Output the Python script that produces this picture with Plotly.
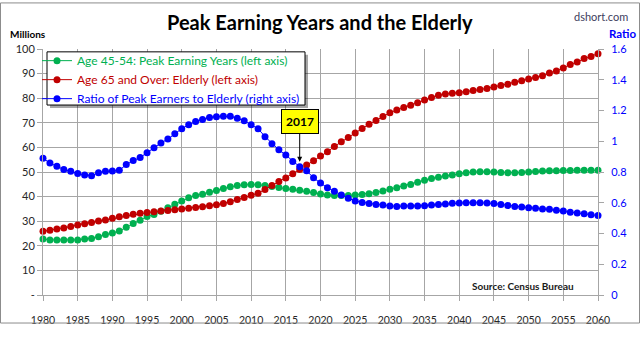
import plotly.graph_objects as go

# ---- data ---------------------------------------------------------------
years = list(range(1980, 2061))

# Population aged 45-54 (millions)
peak_earners = [
    22.8, 22.4, 22.4, 22.4, 22.4, 22.4, 22.8, 23.0, 23.7, 24.6,
    25.2, 26.0, 27.5, 29.1, 30.4, 31.9, 32.7, 34.0, 35.5, 36.9,
    38.2, 39.5, 40.4, 41.0, 41.8, 42.5, 43.3, 44.0, 44.5, 44.8,
    44.9, 44.8, 44.5, 44.1, 43.7, 43.3, 43.0, 42.6, 42.2, 41.7,
    41.1, 40.7, 40.4, 40.4, 40.4, 40.7, 40.9, 41.2, 41.7, 42.3,
    43.0, 43.6, 44.3, 44.9, 45.8, 46.6, 47.4, 47.9, 48.4, 48.8,
    49.3, 49.7, 50.0, 50.1, 50.1, 50.0, 49.8, 49.7, 49.7, 49.8,
    50.0, 50.2, 50.4, 50.5, 50.5, 50.6, 50.6, 50.7, 50.7, 50.7,
    50.7,
]

# Population aged 65 and over (millions)
elderly = [
    25.9, 26.3, 26.8, 27.2, 27.8, 28.5, 29.0, 29.5, 30.1, 30.5,
    31.2, 31.8, 32.3, 32.8, 33.2, 33.5, 33.8, 34.1, 34.4, 34.7,
    35.0, 35.3, 35.6, 35.9, 36.3, 36.7, 37.2, 37.9, 38.8, 39.6,
    40.5, 41.4, 42.9, 44.5, 46.1, 47.6, 49.3, 51.0, 52.8, 54.6,
    56.5, 58.2, 60.4, 62.3, 64.0, 65.9, 67.7, 69.4, 70.9, 72.6,
    74.1, 75.2, 76.2, 77.1, 78.1, 79.3, 80.3, 81.2, 81.7, 82.0,
    82.2, 82.6, 83.1, 83.5, 83.9, 84.6, 85.2, 85.7, 86.5, 87.1,
    87.8, 88.4, 89.1, 90.2, 91.1, 92.3, 93.7, 94.7, 96.1, 97.0,
    98.1,
]

# Ratio of peak earners to elderly
ratio = [
    0.890, 0.858, 0.837, 0.816, 0.805, 0.790, 0.781, 0.776, 0.795, 0.805,
    0.806, 0.811, 0.848, 0.874, 0.894, 0.925, 0.957, 0.989, 1.014, 1.048,
    1.082, 1.107, 1.128, 1.142, 1.154, 1.160, 1.163, 1.162, 1.149, 1.133,
    1.107, 1.082, 1.030, 0.984, 0.944, 0.910, 0.869, 0.834, 0.808, 0.762,
    0.728, 0.698, 0.674, 0.651, 0.630, 0.611, 0.602, 0.595, 0.589, 0.586,
    0.579, 0.576, 0.579, 0.579, 0.579, 0.581, 0.586, 0.589, 0.592, 0.597,
    0.598, 0.600, 0.600, 0.600, 0.598, 0.595, 0.589, 0.582, 0.576, 0.573,
    0.568, 0.565, 0.560, 0.557, 0.552, 0.546, 0.539, 0.533, 0.528, 0.522,
    0.517,
]

left_ticks = list(range(0, 101, 10))
left_tick_text = ["-"] + [str(v) for v in left_ticks[1:]]
right_ticks = [0, 0.2, 0.4, 0.6, 0.8, 1.0, 1.2, 1.4, 1.6]
right_tick_text = ["0", "0.2", "0.4", "0.6", "0.8", "1", "1.2", "1.4", "1.6"]
x_ticks = list(range(1980, 2061, 5))

highlight_year = 2017

# ---- styling --------------------------------------------------------------
W, H = 640, 338
ML, MR, MT, MB = 43, 42, 49, 30
PW, PH = W - ML - MR, H - MT - MB

GREEN = "#00b050"
RED = "#c00000"
BLUE = "#0000ff"
GRID = "#a6a6a6"
FONT = "Lato, 'Open Sans', sans-serif"


def px_x(p):
    return (p - ML) / PW


def px_y(p):
    return 1 - (p - MT) / PH


def series(x, y, name, color, axis):
    return go.Scatter(
        x=x, y=y, name=f"<span style='color:{color}'>{name}</span>",
        mode="lines+markers", yaxis=axis, cliponaxis=False,
        line=dict(color=color, width=1),
        marker=dict(color=color, size=7),
    )


fig = go.Figure()
fig.add_trace(series(years, peak_earners,
                     "Age 45-54: Peak Earning Years (left axis)", GREEN, "y"))
fig.add_trace(series(years, elderly,
                     "Age 65 and Over: Elderly (left axis)", RED, "y"))
fig.add_trace(series(years, ratio,
                     "Ratio of Peak Earners to Elderly (right axis)", BLUE, "y2"))

hi = years.index(highlight_year)

annotations = [
    dict(text="<b>Peak Earning Years and the Elderly</b>", xref="paper", yref="paper",
         x=px_x(320), y=px_y(21), xanchor="center", yanchor="middle", showarrow=False,
         font=dict(size=20, color="#000000", family=FONT)),
    dict(text="dshort.com", xref="paper", yref="paper",
         x=px_x(601), y=px_y(15), xanchor="center", yanchor="middle", showarrow=False,
         font=dict(size=11, color="#404060", family=FONT)),
    dict(text="<b>Millions</b>", xref="paper", yref="paper",
         x=px_x(8), y=px_y(33), xanchor="left", yanchor="middle", showarrow=False,
         font=dict(size=10, color="#000000", family=FONT)),
    dict(text="<b>Ratio</b>", xref="paper", yref="paper",
         x=px_x(607), y=px_y(33), xanchor="left", yanchor="middle", showarrow=False,
         font=dict(size=11.5, color=BLUE, family=FONT)),
    dict(text="<b>Source: Census Bureau</b>", xref="paper", yref="paper",
         x=px_x(523), y=px_y(298), xanchor="center", yanchor="middle", showarrow=False,
         font=dict(size=10, color="#1a1a1a", family=FONT)),
    dict(text=f"<b>{highlight_year}</b>", x=highlight_year, y=ratio[hi],
         xref="x", yref="y2", showarrow=True, arrowhead=2, arrowsize=1,
         arrowwidth=1, arrowcolor="#000000", ax=0, ay=-45, standoff=5,
         bgcolor="#ffff00", bordercolor="#000000", borderwidth=1, borderpad=4,
         font=dict(size=12, color="#000000", family=FONT)),
]

shapes = [
    # legend box: drop shadow, then white panel with black border
    dict(type="rect", xref="paper", yref="paper", layer="above",
         x0=px_x(50), x1=px_x(308), y0=px_y(55), y1=px_y(111),
         fillcolor="rgba(0,0,0,0.35)", line=dict(width=0)),
    dict(type="rect", xref="paper", yref="paper", layer="above",
         x0=px_x(47), x1=px_x(305), y0=px_y(52), y1=px_y(108),
         fillcolor="#ffffff", line=dict(color="#000000", width=1)),
    # outer frame
    dict(type="rect", xref="paper", yref="paper", layer="above",
         x0=px_x(0.5), x1=px_x(W - 0.5), y0=px_y(0.5), y1=px_y(H - 0.5),
         line=dict(color="#8c8c8c", width=1), fillcolor="rgba(0,0,0,0)"),
]

fig.update_layout(
    width=W, height=H,
    margin=dict(l=ML, r=MR, t=MT, b=MB),
    paper_bgcolor="#ffffff", plot_bgcolor="#ffffff",
    font=dict(family=FONT, size=10, color="#000000"),
    showlegend=True,
    legend=dict(x=px_x(37), y=px_y(46), xanchor="left", yanchor="top",
                bgcolor="rgba(0,0,0,0)", borderwidth=0,
                font=dict(size=12, family=FONT), tracegroupgap=0,
                itemwidth=30),
    xaxis=dict(range=[1980, 2060], tickvals=x_ticks, showgrid=True,
               gridcolor=GRID, gridwidth=1, showline=True, linecolor=GRID,
               ticks="outside", ticklen=5, tickcolor=GRID,
               ticklabelstandoff=10, zeroline=False,
               tickfont=dict(size=10.5, color="#262626", family=FONT)),
    yaxis=dict(range=[0, 100], tickvals=left_ticks, ticktext=left_tick_text,
               showgrid=True, gridcolor=GRID, gridwidth=1, showline=True,
               linecolor=GRID, ticks="outside", ticklen=5, tickcolor=GRID,
               zeroline=False,
               tickfont=dict(size=11, color="#262626", family=FONT)),
    yaxis2=dict(range=[0, 1.6], tickvals=right_ticks, ticktext=right_tick_text,
                overlaying="y", side="right", showgrid=False, showline=True,
                linecolor=GRID, ticks="outside", ticklen=5, tickcolor=GRID,
                ticklabelstandoff=5, zeroline=False,
                tickfont=dict(size=11, color=BLUE, family=FONT)),
    annotations=annotations,
    shapes=shapes,
)
# bold axis numbers on the value axes
fig.update_yaxes(tickprefix="<b>", ticksuffix="</b>")

fig.write_html("out.html")
